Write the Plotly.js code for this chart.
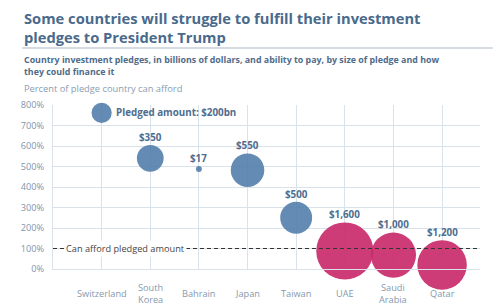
<!DOCTYPE html>
<html>
<head>
<meta charset="utf-8">
<script src="https://cdn.plot.ly/plotly-3.0.1.min.js"></script>
<style>
  html, body { margin: 0; padding: 0; background: #fff; }
  #chart { width: 500px; height: 306px; }
</style>
</head>
<body>
<div id="chart"></div>
<script>
// Countries in display order, with their investment pledges (billions of USD)
// and the percent of each pledge the country can afford.
const countries = ['Switzerland', 'South Korea', 'Bahrain', 'Japan', 'Taiwan', 'UAE', 'Saudi Arabia', 'Qatar'];
const tickLabels = ['Switzerland', 'South<br>Korea', 'Bahrain', 'Japan', 'Taiwan', 'UAE', 'Saudi<br>Arabia', 'Qatar'];
const pledges = [200, 350, 17, 550, 500, 1600, 1000, 1200];
const affordPct = [762, 540, 488, 482, 250, 88, 68, 20];
const canAfford = [true, true, true, true, true, false, false, false];
const yTicks = [0, 100, 200, 300, 400, 500, 600, 700, 800];

const BLUE = '#5681ad';
const PINK = '#c92b6b';
const FONT = 'Open Sans, sans-serif';
const SIZEREF = 0.98;

const money = v => '$' + v.toLocaleString('en-US');
// bubble radius in px, as Plotly computes it for sizemode 'area'
const radius = v => Math.sqrt(v / 2 / SIZEREF);

const trace = {
  type: 'scatter',
  mode: 'markers',
  x: countries,
  y: affordPct,
  cliponaxis: false,
  hoverinfo: 'skip',
  marker: {
    size: pledges,
    sizemode: 'area',
    sizeref: SIZEREF,
    color: canAfford.map(ok => ok ? BLUE : PINK),
    opacity: 0.92,
    line: { width: 0 }
  }
};

// pledge labels sit just above each bubble; the first one reads to the right
const pledgeLabels = countries.map((c, i) => {
  const first = i === 0;
  return {
    text: '<b>' + (first ? 'Pledged amount: ' + money(pledges[i]) + 'bn' : money(pledges[i])) + '</b>',
    xref: 'x', yref: 'y', x: c, y: affordPct[i],
    xanchor: first ? 'left' : 'center',
    yanchor: first ? 'middle' : 'bottom',
    xshift: first ? radius(pledges[i]) + 2 : 0,
    yshift: first ? 0 : radius(pledges[i]) - 1,
    showarrow: false,
    font: { family: FONT, size: 9.8, color: '#4f6d8e' }
  };
});

const axisLabels = countries.map((c, i) => ({
  text: tickLabels[i],
  xref: 'x', yref: 'paper', x: c, y: -0.152, xanchor: 'center', yanchor: 'middle',
  showarrow: false,
  font: { family: FONT, size: 9.2, color: '#8699ae' }
}));

const annotations = [
  {
    text: '<b>Some countries will struggle to fulfill their investment<br>pledges to President Trump</b>',
    xref: 'paper', yref: 'paper', x: -0.0726, y: 1.604, xanchor: 'left', yanchor: 'top',
    align: 'left', showarrow: false,
    font: { family: FONT, size: 14.7, color: '#4a6a8c' }
  },
  {
    text: '<b>Country investment pledges, in billions of dollars, and ability to pay, by size of pledge and how<br>they could finance it</b>',
    xref: 'paper', yref: 'paper', x: -0.0726, y: 1.326, xanchor: 'left', yanchor: 'top',
    align: 'left', showarrow: false,
    font: { family: FONT, size: 8.85, color: '#4f6b8a' }
  },
  {
    text: 'Percent of pledge country can afford',
    xref: 'paper', yref: 'paper', x: -0.0726, y: 1.152, xanchor: 'left', yanchor: 'top',
    align: 'left', showarrow: false,
    font: { family: FONT, size: 9.3, color: '#8a9db2' }
  },
  {
    text: 'Can afford pledged amount',
    xref: 'paper', yref: 'y', x: 0.026, y: 100, xanchor: 'left', yanchor: 'middle',
    showarrow: false, bgcolor: '#ffffff', borderpad: 1,
    font: { family: FONT, size: 9.2, color: '#444444' }
  }
].concat(pledgeLabels, axisLabels);

const layout = {
  width: 500,
  height: 306,
  margin: { l: 53, r: 20, t: 105, b: 37 },
  paper_bgcolor: '#ffffff',
  plot_bgcolor: '#ffffff',
  showlegend: false,
  xaxis: {
    type: 'category',
    range: [-1, 7.78],
    showticklabels: false,
    showgrid: true,
    gridcolor: '#d9e1ea',
    gridwidth: 1,
    zeroline: false,
    showline: true,
    linecolor: '#d9e1ea',
    ticks: '',
    fixedrange: true
  },
  yaxis: {
    range: [0, 800],
    tickvals: yTicks,
    ticktext: yTicks.map(v => v + '%'),
    tickfont: { family: FONT, size: 9.2, color: '#7f95ad' },
    showgrid: true,
    gridcolor: '#d9e1ea',
    gridwidth: 1,
    zeroline: false,
    showline: true,
    linecolor: '#d9e1ea',
    ticks: 'outside',
    ticklen: 6,
    tickcolor: 'rgba(0,0,0,0)',
    fixedrange: true
  },
  shapes: [
    {
      type: 'line', xref: 'paper', yref: 'paper',
      x0: -0.0726, x1: 1.03, y0: 1.3476, y1: 1.3476,
      line: { color: '#c8cfd7', width: 1.5 }
    },
    {
      type: 'line', xref: 'paper', yref: 'y', layer: 'above',
      x0: 0, x1: 1, y0: 100, y1: 100,
      line: { color: '#333333', width: 1.2, dash: '4px,3px' }
    }
  ],
  annotations: annotations
};

Plotly.newPlot('chart', [trace], layout, { displayModeBar: false, staticPlot: true });
</script>
</body>
</html>
